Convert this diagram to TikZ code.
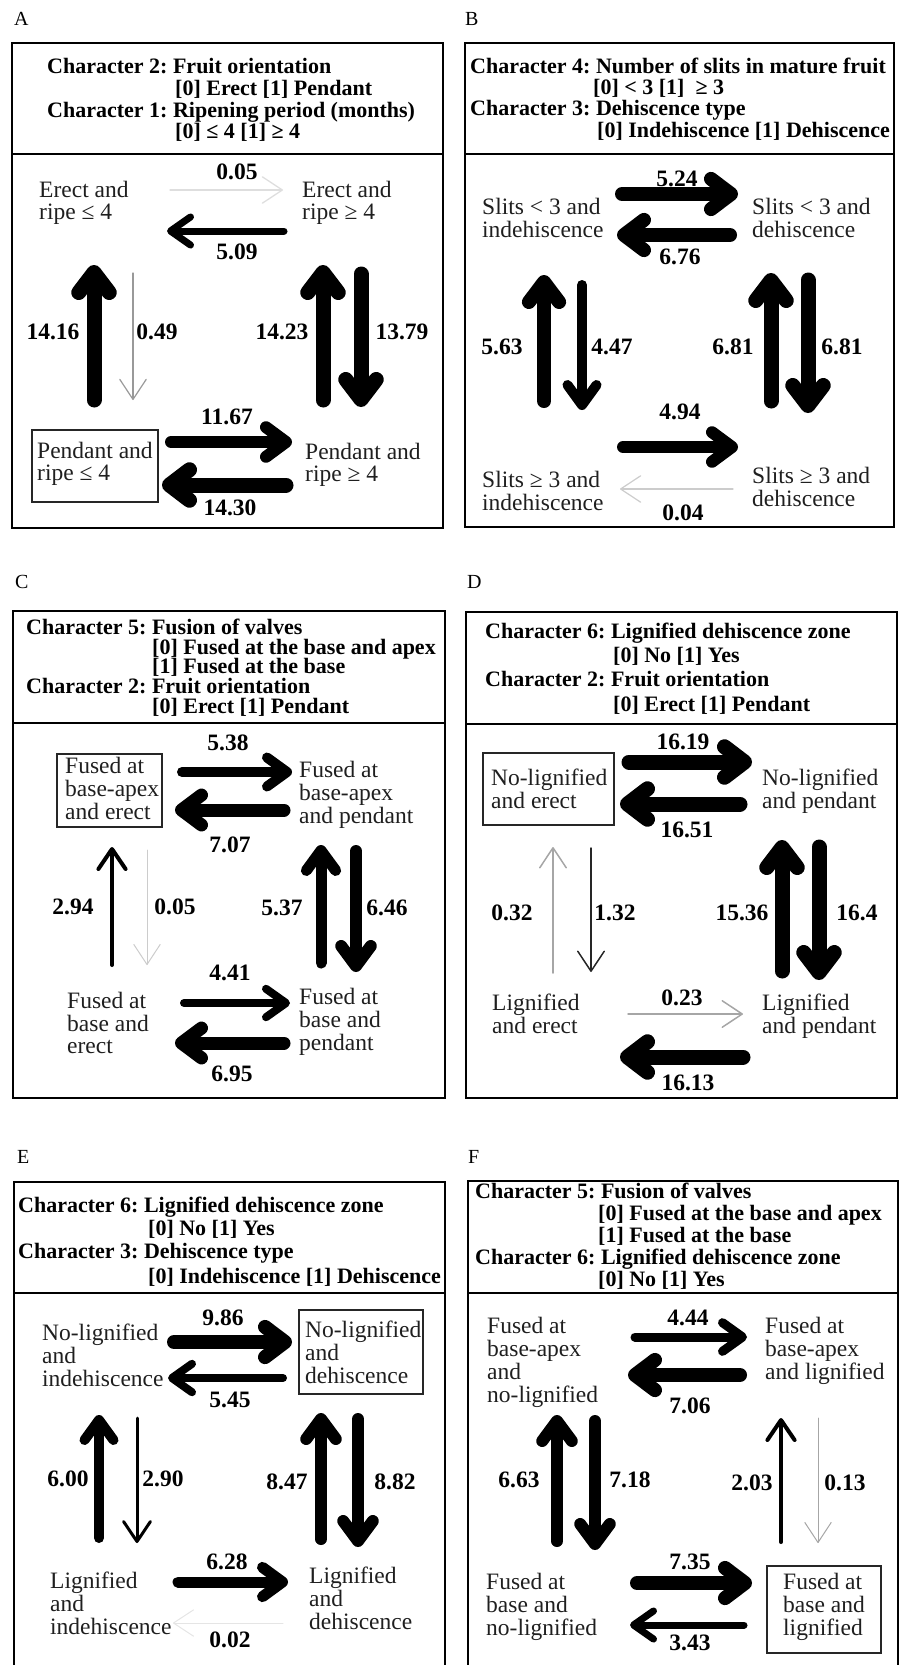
\documentclass[tikz,border=0pt]{standalone}
\usepackage{fontspec}
\setmainfont{Liberation Serif}
\usetikzlibrary{arrows.meta}
\frenchspacing
\newcommand\mylines[1]{\begin{tabular}[t]{@{}l@{}}#1\end{tabular}}
\newcommand\stfont{\fontsize{23.5}{22.5}\selectfont}
\newcommand\nmfont{\fontsize{23.5}{23}\selectfont\bfseries}
\newcommand\hdfont{\fontsize{22}{22}\selectfont\bfseries}
\newcommand\arw[5]{\coordinate (#2s) at (#3); \coordinate (#2e) at (#4); \draw[#1,#5] (#2s) -- (#2e);}
\definecolor{statecol}{gray}{0.12}
\definecolor{g1}{gray}{0.87}
\definecolor{g2}{gray}{0.8}
\definecolor{g3}{gray}{0.65}
\definecolor{g4}{gray}{0.6}
\definecolor{g5}{gray}{0.9}
\tikzset{
  state/.style={anchor=base west, inner sep=0pt, font=\stfont, text=statecol},
  num/.style={font=\nmfont, inner sep=0pt},
  hd/.style={anchor=base west, inner sep=0pt, font=\hdfont},
  plab/.style={anchor=base west, inner sep=0pt, font=\fontsize{20}{20}\selectfont},
  panel/.style={line width=2.8pt},
  sbox/.style={line width=1.3pt, draw=black!85},
  ar/.style={line width=#1, line cap=round, -{Straight Barb[round, length=20pt 0, width=26pt 0.3]}},
}
\begin{document}
\begin{tikzpicture}[x=1pt,y=-1pt]
\useasboundingbox (0,0) rectangle (900,1665);
% ---------------- panel frames
\draw[panel] (12,43) rectangle (443,528); \draw[panel] (12,154) -- (443,154);
\draw[panel] (465,43) rectangle (894,527); \draw[panel] (465,154) -- (894,154);
\draw[panel] (13,611) rectangle (445,1098); \draw[panel] (13,723) -- (445,723);
\draw[panel] (466,612) rectangle (897,1098); \draw[panel] (466,724) -- (897,724);
\draw[panel] (14,1680) -- (14,1182) -- (445,1182) -- (445,1680); \draw[panel] (14,1293) -- (445,1293);
\draw[panel] (468,1680) -- (468,1181) -- (898,1181) -- (898,1680); \draw[panel] (468,1293) -- (898,1293);
% ---------------- panel letters
\node[plab] (lA) at (14,25) {A};
\node[plab] (lB) at (465,25) {B};
\node[plab] (lC) at (15,588) {C};
\node[plab] (lD) at (467,588) {D};
\node[plab] (lE) at (17,1163) {E};
\node[plab] (lF) at (468,1163) {F};
% ================= A
\node[hd] (hA1) at (47,73) {Character 2: Fruit orientation};
\node[hd] (hA2) at (175,95) {[0] Erect [1] Pendant};
\node[hd] (hA3) at (47,117) {Character 1: Ripening period (months)};
\node[hd] (hA4) at (175,138) {[0] ≤ 4 [1] ≥ 4};
\node[state] (A00) at (39,197) {\mylines{Erect and\\ripe ≤ 4}};
\node[state] (A01) at (302,197) {\mylines{Erect and\\ripe ≥ 4}};
\node[state] (A10) at (37,458) {\mylines{Pendant and\\ripe ≤ 4}};
\node[state] (A11) at (305,459) {\mylines{Pendant and\\ripe ≥ 4}};
\draw[sbox] (32,430) rectangle (158,502);
\arw{ar=1.3pt}{Aa}{170,190}{283,190}{g1}
\arw{ar=7pt}{Ab}{284,231}{167,231}{black}
\arw{ar=15pt}{Ac}{94,400}{94,265}{black}
\arw{ar=1.2pt}{Ad}{133,273}{133,400}{g4}
\arw{ar=15pt}{Ae}{323,400}{323,265}{black}
\arw{ar=15pt}{Af}{361,274}{361,407}{black}
\arw{ar=12pt}{Ag}{171,442}{292,442}{black}
\arw{ar=15pt}{Ah}{286,485}{162,485}{black}
\node[num] (nAa) at (237,172) {0.05};
\node[num] (nAb) at (237,252) {5.09};
\node[num] (nAc) at (53,332) {14.16};
\node[num] (nAd) at (157,332) {0.49};
\node[num] (nAe) at (282,332) {14.23};
\node[num] (nAf) at (402,332) {13.79};
\node[num] (nAg) at (227,417) {11.67};
\node[num] (nAh) at (230,508) {14.30};
% ================= B
\node[hd] (hB1) at (470,73) {Character 4: Number of slits in mature fruit};
\node[hd] (hB2) at (593,94) {[0] < 3 [1] \ ≥ 3};
\node[hd] (hB3) at (470,115) {Character 3: Dehiscence type};
\node[hd] (hB4) at (597,137) {[0] Indehiscence [1] Dehiscence};
\node[state] (B00) at (482,214) {\mylines{Slits < 3 and\\indehiscence}};
\node[state] (B01) at (752,214) {\mylines{Slits < 3 and\\dehiscence}};
\node[state] (B10) at (482,487) {\mylines{Slits ≥ 3 and\\indehiscence}};
\node[state] (B11) at (752,483) {\mylines{Slits ≥ 3 and\\dehiscence}};
\arw{ar=14pt}{Ba}{622,194}{738,194}{black}
\arw{ar=14pt}{Bb}{730,235}{617,235}{black}
\arw{ar=14pt}{Bc}{544,401}{544,275}{black}
\arw{ar=10pt}{Bd}{582,285}{582,410}{black}
\arw{ar=15pt}{Be}{771,401}{771,273}{black}
\arw{ar=15pt}{Bf}{808,280}{808,413}{black}
\arw{ar=12pt}{Bg}{623,447}{738,447}{black}
\arw{ar=1.2pt}{Bh}{733,489}{620,489}{g2}
\node[num] (nBa) at (677,179) {5.24};
\node[num] (nBb) at (680,257) {6.76};
\node[num] (nBc) at (502,347) {5.63};
\node[num] (nBd) at (612,347) {4.47};
\node[num] (nBe) at (733,347) {6.81};
\node[num] (nBf) at (842,347) {6.81};
\node[num] (nBg) at (680,412) {4.94};
\node[num] (nBh) at (683,513) {0.04};
% ================= C
\node[hd] (hC1) at (26,634) {Character 5: Fusion of valves};
\node[hd] (hC2) at (152,654) {[0] Fused at the base and apex};
\node[hd] (hC3) at (152,673) {[1] Fused at the base};
\node[hd] (hC4) at (26,693) {Character 2: Fruit orientation};
\node[hd] (hC5) at (152,713) {[0] Erect [1] Pendant};
\node[state] (C00) at (65,773) {\mylines{Fused at\\base-apex\\and erect}};
\node[state] (C01) at (299,777) {\mylines{Fused at\\base-apex\\and pendant}};
\node[state] (C10) at (67,1008) {\mylines{Fused at\\base and\\erect}};
\node[state] (C11) at (299,1004) {\mylines{Fused at\\base and\\pendant}};
\draw[sbox] (57,754) rectangle (162,827);
\arw{ar=10pt}{Ca}{182,772}{292,772}{black}
\arw{ar=13pt}{Cb}{284,810}{175,810}{black}
\arw{ar=4pt}{Cc}{112,965}{112,847}{black}
\arw{ar=1pt}{Cd}{147,850}{147,965}{g2}
\arw{ar=11pt}{Ce}{321,963}{321,845}{black}
\arw{ar=12pt}{Cf}{356,851}{356,972}{black}
\arw{ar=8pt}{Cg}{184,1003}{290,1003}{black}
\arw{ar=13pt}{Ch}{284,1043}{175,1043}{black}
\node[num] (nCa) at (228,743) {5.38};
\node[num] (nCb) at (230,845) {7.07};
\node[num] (nCc) at (73,907) {2.94};
\node[num] (nCd) at (175,907) {0.05};
\node[num] (nCe) at (282,908) {5.37};
\node[num] (nCf) at (387,908) {6.46};
\node[num] (nCg) at (230,973) {4.41};
\node[num] (nCh) at (232,1074) {6.95};
% ================= D
\node[hd] (hD1) at (485,638) {Character 6: Lignified dehiscence zone};
\node[hd] (hD2) at (613,662) {[0] No [1] Yes};
\node[hd] (hD3) at (485,686) {Character 2: Fruit orientation};
\node[hd] (hD4) at (613,711) {[0] Erect [1] Pendant};
\node[state] (D00) at (491,785) {\mylines{No-lignified\\and erect}};
\node[state] (D01) at (762,785) {\mylines{No-lignified\\and pendant}};
\node[state] (D10) at (492,1010) {\mylines{Lignified\\and erect}};
\node[state] (D11) at (762,1010) {\mylines{Lignified\\and pendant}};
\draw[sbox] (483,753) rectangle (614,825);
\arw{ar=15pt}{Da}{629,762}{752,762}{black}
\arw{ar=15pt}{Db}{740,804}{620,804}{black}
\arw{ar=1.5pt}{Dc}{553,973}{553,847}{g3}
\arw{ar=1.5pt}{Dd}{591,848}{591,972}{black!85}
\arw{ar=15pt}{De}{782,971}{782,840}{black}
\arw{ar=15pt}{Df}{819,847}{819,980}{black}
\arw{ar=1.5pt}{Dg}{628,1014}{743,1014}{g3}
\arw{ar=15pt}{Dh}{743,1057}{620,1057}{black}
\node[num] (nDa) at (683,742) {16.19};
\node[num] (nDb) at (687,830) {16.51};
\node[num] (nDc) at (512,913) {0.32};
\node[num] (nDd) at (615,913) {1.32};
\node[num] (nDe) at (742,913) {15.36};
\node[num] (nDf) at (857,913) {16.4};
\node[num] (nDg) at (682,998) {0.23};
\node[num] (nDh) at (688,1083) {16.13};
% ================= E
\node[hd] (hE1) at (18,1212) {Character 6: Lignified dehiscence zone};
\node[hd] (hE2) at (148,1235) {[0] No [1] Yes};
\node[hd] (hE3) at (18,1258) {Character 3: Dehiscence type};
\node[hd] (hE4) at (148,1283) {[0] Indehiscence [1] Dehiscence};
\node[state] (E00) at (42,1340) {\mylines{No-lignified\\and\\indehiscence}};
\node[state] (E01) at (305,1337) {\mylines{No-lignified\\and\\dehiscence}};
\node[state] (E10) at (50,1588) {\mylines{Lignified\\and\\indehiscence}};
\node[state] (E11) at (309,1583) {\mylines{Lignified\\and\\dehiscence}};
\draw[sbox] (299,1310) rectangle (423,1394);
\arw{ar=14pt}{Ea}{174,1342}{292,1342}{black}
\arw{ar=8pt}{Eb}{283,1378}{168,1378}{black}
\arw{ar=10pt}{Ec}{99,1538}{99,1415}{black}
\arw{ar=3pt}{Ed}{137,1418}{137,1543}{black}
\arw{ar=12pt}{Ee}{321,1539}{321,1413}{black}
\arw{ar=12pt}{Ef}{358,1419}{358,1547}{black}
\arw{ar=11pt}{Eg}{178,1582}{288,1582}{black}
\arw{ar=1pt}{Eh}{283,1623}{173,1623}{g5}
\node[num] (nEa) at (223,1318) {9.86};
\node[num] (nEb) at (230,1400) {5.45};
\node[num] (nEc) at (68,1479) {6.00};
\node[num] (nEd) at (163,1479) {2.90};
\node[num] (nEe) at (287,1482) {8.47};
\node[num] (nEf) at (395,1482) {8.82};
\node[num] (nEg) at (227,1562) {6.28};
\node[num] (nEh) at (230,1640) {0.02};
% ================= F
\node[hd] (hF1) at (475,1198) {Character 5: Fusion of valves};
\node[hd] (hF2) at (598,1220) {[0] Fused at the base and apex};
\node[hd] (hF3) at (598,1242) {[1] Fused at the base};
\node[hd] (hF4) at (475,1264) {Character 6: Lignified dehiscence zone};
\node[hd] (hF5) at (598,1286) {[0] No [1] Yes};
\node[state] (F00) at (487,1333) {\mylines{Fused at\\base-apex\\and\\no-lignified}};
\node[state] (F01) at (765,1333) {\mylines{Fused at\\base-apex\\and lignified}};
\node[state] (F10) at (486,1589) {\mylines{Fused at\\base and\\no-lignified}};
\node[state] (F11) at (783,1589) {\mylines{Fused at\\base and\\lignified}};
\draw[sbox] (767,1566) rectangle (881,1653);
\arw{ar=9pt}{Fa}{635,1337}{747,1337}{black}
\arw{ar=14pt}{Fb}{740,1375}{628,1375}{black}
\arw{ar=12pt}{Fc}{557,1541}{557,1415}{black}
\arw{ar=12pt}{Fd}{595,1421}{595,1550}{black}
\arw{ar=4pt}{Fe}{781,1542}{781,1418}{black}
\arw{ar=1pt}{Ff}{818,1418}{818,1543}{g3}
\arw{ar=14pt}{Fg}{637,1583}{752,1583}{black}
\arw{ar=7pt}{Fh}{744,1625}{630,1625}{black}
\node[num] (nFa) at (688,1318) {4.44};
\node[num] (nFb) at (690,1406) {7.06};
\node[num] (nFc) at (519,1480) {6.63};
\node[num] (nFd) at (630,1480) {7.18};
\node[num] (nFe) at (752,1483) {2.03};
\node[num] (nFf) at (845,1483) {0.13};
\node[num] (nFg) at (690,1562) {7.35};
\node[num] (nFh) at (690,1643) {3.43};
\end{tikzpicture}
\end{document}
